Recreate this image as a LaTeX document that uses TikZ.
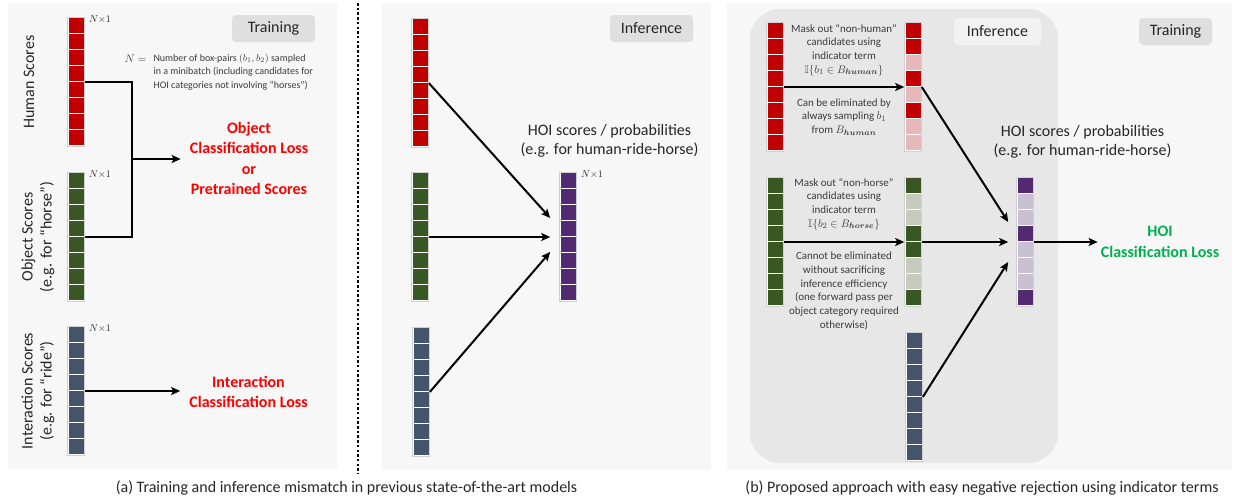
\documentclass[tikz,border=0pt]{standalone}
\usepackage{amsmath,amssymb}
\usepackage{fontspec}
\setmainfont{Carlito}
\usetikzlibrary{arrows.meta,calc}
\definecolor{panelbg}{HTML}{F7F7F7}
\definecolor{innerbg}{HTML}{E7E7E7}
\definecolor{tagbg}{HTML}{DFDFDF}
\definecolor{taglight}{HTML}{F2F2F2}
\definecolor{colframe}{HTML}{D0D0D0}
\definecolor{hred}{HTML}{C00000}
\definecolor{hpink}{HTML}{E6B8B7}
\definecolor{ogreen}{HTML}{385723}
\definecolor{olight}{HTML}{C5CBBF}
\definecolor{iblue}{HTML}{44546A}
\definecolor{hpurple}{HTML}{512A72}
\definecolor{plight}{HTML}{C9C0D4}
\definecolor{lossred}{HTML}{FF0000}
\definecolor{lossgreen}{HTML}{00B050}
\definecolor{txt}{HTML}{262626}
\definecolor{notetxt}{HTML}{3B3B3B}

\begin{document}
\begin{tikzpicture}[x=1pt, y=-1pt,
      every node/.style={text=txt},
      lbl/.style={font=\fontsize{16}{19}\selectfont, align=center},
      tag/.style={rounded corners=4pt, minimum height=27pt, inner sep=0pt, font=\fontsize{16}{19}\selectfont},
      loss/.style={font=\bfseries\fontsize{16}{20.5}\selectfont, align=center, inner sep=9pt},
      note/.style={font=\fontsize{11}{13.7}\selectfont, align=center, text=notetxt},
      dim/.style={font=\fontsize{10}{12}\selectfont, inner sep=1pt, anchor=west},
      col/.style={draw=colframe, fill=white, line width=0.6pt, minimum width=17pt, minimum height=129pt, inner sep=0pt},
      cell/.style={minimum width=15pt, minimum height=15pt, inner sep=0pt},
      conn/.style={line width=2pt, black},
      arr/.style={conn, -{Stealth[length=9pt, width=8pt, inset=2pt]}}]
    \useasboundingbox (0,0) rectangle (1237,496);
    \fill[panelbg] (8,3) rectangle (337,469);
    \fill[panelbg] (382,3) rectangle (711,470);
    \fill[panelbg] (727,3) rectangle (1232,470);
    \fill[innerbg, rounded corners=30pt] (750,9) rectangle (1058,463);
    \draw[line width=2.5pt, dash pattern=on 2.5pt off 2.2pt] (358,3) -- (358,474);

    \foreach \name/\px/\py/\cols in {
        hum1/76/82/{hred,hred,hred,hred,hred,hred,hred,hred},
        obj1/76/237/{ogreen,ogreen,ogreen,ogreen,ogreen,ogreen,ogreen,ogreen},
        int1/76/391/{iblue,iblue,iblue,iblue,iblue,iblue,iblue,iblue},
        hum2/420/83/{hred,hred,hred,hred,hred,hred,hred,hred},
        obj2/420/237/{ogreen,ogreen,ogreen,ogreen,ogreen,ogreen,ogreen,ogreen},
        int2/421/392/{iblue,iblue,iblue,iblue,iblue,iblue,iblue,iblue},
        hoi2/568/237/{hpurple,hpurple,hpurple,hpurple,hpurple,hpurple,hpurple,hpurple},
        hum3/775/87/{hred,hred,hred,hred,hred,hred,hred,hred},
        humm3/913/87/{hred,hred,hpink,hred,hpink,hred,hpink,hpink},
        obj3/775/242/{ogreen,ogreen,ogreen,ogreen,ogreen,ogreen,ogreen,ogreen},
        objm3/913/242/{ogreen,olight,olight,ogreen,ogreen,olight,olight,ogreen},
        int3/914/397/{iblue,iblue,iblue,iblue,iblue,iblue,iblue,iblue},
        hoi3/1025/242/{hpurple,plight,plight,hpurple,plight,plight,plight,hpurple}}
    {
        \node[col] (\name) at (\px,\py) {};
        \foreach \c [count=\i] in \cols
            \node[cell, fill=\c] (\name-\i) at ($(\name.north)+(0,{8.5+16*(\i-1)})$) {};
    }
    \foreach \name in {hum1,obj1,int1,hoi2}
        \node[dim] (\name-dim) at ($(\name.north east)+(3,2)$) {$N{\times}1$};

    \node[tag, fill=tagbg, minimum width=83pt] (train1) at (273.5,28.5) {Training};
    \node[tag, fill=tagbg, minimum width=83pt] (inf2) at (651.5,28.5) {Inference};
    \node[tag, fill=taglight, minimum width=87pt] (inf3) at (997.5,31.5) {Inference};
    \node[tag, fill=tagbg, minimum width=73pt] (train3) at (1175.5,31.5) {Training};

    \node[lbl, rotate=90] (humlab1) at (29,82) {Human Scores};
    \node[lbl, rotate=90] (objlab1) at (38,237) {Object Scores\\(e.g. for “horse”)};
    \node[lbl, rotate=90] (intlab1) at (38,391) {Interaction Scores\\(e.g. for “ride”)};

    \node[note, align=left, font=\fontsize{10}{13.5}\selectfont, anchor=west] (nnote) at (150,72)
        {Number of box-pairs $(b_1, b_2)$ sampled\\in a minibatch (including candidates for\\HOI categories not involving “horses”)};
    \node[note, anchor=east, font=\fontsize{11}{13}\selectfont] (neq) at ($(nnote.west)+(0,-13.5)$) {$N =$};

    \coordinate (j1) at (132,159);
    \draw[conn] (hum1.east) -| (j1) |- (obj1.east);
    \node[loss, text=lossred] (objloss1) at (249,158.5) {Object\\Classification Loss\\or\\Pretrained Scores};
    \draw[arr] (j1) -- (j1 -| objloss1.west);
    \node[loss, text=lossred] (intloss1) at (248.5,392) {Interaction\\Classification Loss};
    \draw[arr] (int1.east) -- (int1.east -| intloss1.west);

    \node[lbl] (hoilab2) at (609.5,141) {HOI scores / probabilities\\(e.g. for human-ride-horse)};
    \draw[arr] (hum2.east) -- ($(hoi2.west)+(-9,-19)$);
    \draw[arr] (obj2.east) -- ($(hoi2.west)+(-9,0)$);
    \draw[arr] (int2.east) -- ($(hoi2.west)+(-9,15)$);

    \draw[arr] (hum3.east) -- (humm3.west);
    \draw[arr] (obj3.east) -- (objm3.west);
    \node[note] (mask3a) at (844,50) {Mask out “non-human”\\candidates using\\indicator term\\$\mathbb{I}\{b_1\in B_{\boldsymbol{human}}\}$};
    \node[note] (elim3a) at (844,117) {Can be eliminated by\\always sampling $b_1$\\from $B_{\boldsymbol{human}}$};
    \node[note] (mask3b) at (844,204) {Mask out “non-horse”\\candidates using\\indicator term\\$\mathbb{I}\{b_2\in B_{\boldsymbol{horse}}\}$};
    \node[note] (elim3b) at (844,291) {Cannot be eliminated\\without sacrificing\\inference efficiency\\(one forward pass per\\object category required\\otherwise)};
    \node[lbl] (hoilab3) at (1082.5,142) {HOI scores / probabilities\\(e.g. for human-ride-horse)};
    \draw[arr] (humm3.east) -- ($(hoi3.west)+(-8,-20)$);
    \draw[arr] (objm3.east) -- ($(hoi3.west)+(-8,0)$);
    \draw[arr] (int3.east) -- ($(hoi3.west)+(-8,20)$);
    \node[loss, text=lossgreen, inner sep=3pt] (hoiloss3) at (1160,242) {HOI\\Classification Loss};
    \draw[arr] (hoi3.east) -- (hoi3.east -| hoiloss3.west);

    \node[font=\fontsize{16}{18}\selectfont] (capa) at (346.5,488) {(a) Training and inference mismatch in previous state-of-the-art models};
    \node[font=\fontsize{16}{18}\selectfont] (capb) at (982,488) {(b) Proposed approach with easy negative rejection using indicator terms};
  \end{tikzpicture}
\end{document}
